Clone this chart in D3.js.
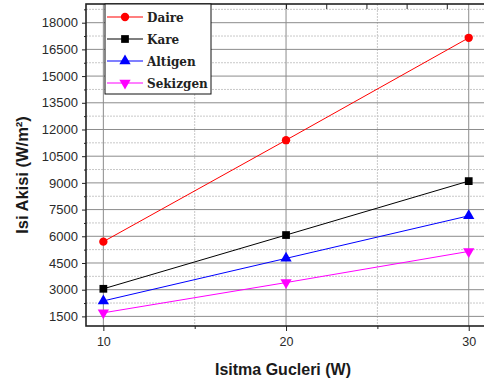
<!DOCTYPE html>
<html lang="en">
<head>
<meta charset="UTF-8">
<script src="https://d3js.org/d3.v7.min.js"></script>
<style>
  body { margin: 0; background: #fff; }
</style>
</head>
<body>
<div id="chart"></div>
<script>

// data
const powers = [10, 20, 30];
const daire = [5700, 11400, 17150];
const kare = [3050, 6070, 9100];
const altigen = [2370, 4760, 7150];
const sekizgen = [1700, 3400, 5150];
const seriesNames = ["Daire", "Kare", "Altigen", "Sekizgen"];
const yTicks = [1500, 3000, 4500, 6000, 7500, 9000, 10500, 12000, 13500, 15000, 16500, 18000];
const xTicks = [10, 20, 30];

const W = 484, H = 383;
const margin = {top: 4, right: -3, bottom: 57, left: 86};
const width = W - margin.left - margin.right,
      height = H - margin.top - margin.bottom;

const svg = d3.select("#chart").append("svg")
    .attr("width", W)
    .attr("height", H);

const g = svg.append("g")
    .attr("transform", `translate(${margin.left},${margin.top})`);

const x = d3.scaleLinear().domain([9.05, 31]).range([0, width]);
const y = d3.scaleLinear().domain([960, 19050]).range([height, 0]);

// minor grid (dotted)
const yMinor = yTicks.map(d => d + 750).filter(d => d < 19000);
g.append("g").selectAll("line")
  .data(yMinor)
  .join("line")
    .attr("x1", 0).attr("x2", width)
    .attr("y1", d => y(d)).attr("y2", d => y(d))
    .attr("stroke", "#c8c8c8")
    .attr("stroke-dasharray", "2,1");
g.append("g").selectAll("line")
  .data([15, 25])
  .join("line")
    .attr("x1", d => x(d)).attr("x2", d => x(d))
    .attr("y1", 0).attr("y2", height)
    .attr("stroke", "#c8c8c8")
    .attr("stroke-dasharray", "2,1");

// major grid
g.append("g").selectAll("line")
  .data(yTicks)
  .join("line")
    .attr("x1", 0).attr("x2", width)
    .attr("y1", d => y(d)).attr("y2", d => y(d))
    .attr("stroke", "#8c8c8c");
g.append("g").selectAll("line")
  .data(xTicks)
  .join("line")
    .attr("x1", d => x(d)).attr("x2", d => x(d))
    .attr("y1", 0).attr("y2", height)
    .attr("stroke", "#8c8c8c");

// axes
const yAxis = g.append("g")
  .call(d3.axisLeft(y).tickValues(yTicks).tickSize(4).tickPadding(4).tickFormat(d3.format("d")));
const yAxisMinor = g.append("g")
  .call(d3.axisLeft(y).tickValues(yMinor).tickSize(2).tickFormat(""));
const xAxis = g.append("g")
  .attr("transform", `translate(0,${height})`)
  .call(d3.axisBottom(x).tickValues(xTicks).tickSize(5).tickPadding(6).tickFormat(d3.format("d")));
const xAxisMinor = g.append("g")
  .attr("transform", `translate(0,${height})`)
  .call(d3.axisBottom(x).tickValues([15, 25]).tickSize(3).tickFormat(""));
const xTop = g.append("g")
  .call(d3.axisBottom(x).tickValues([11.2, 15.6, 20, 22.2, 24.4, 26.6, 28.8]).tickSize(5).tickFormat(""));

[yAxis, yAxisMinor, xAxis, xAxisMinor, xTop].forEach(a => {
  a.select(".domain").remove();
  a.selectAll(".tick line").attr("stroke", "#222");
  a.selectAll(".tick text")
    .attr("fill", "#2a2a2a")
    .style("font-family", "'Liberation Sans', Arial, sans-serif")
    .style("font-size", "12.5px");
});
yAxis.selectAll(".tick text").style("font-size", "13px");

// frame
g.append("rect")
  .attr("x", 0).attr("y", 0)
  .attr("width", width).attr("height", height)
  .attr("fill", "none")
  .attr("stroke", "#222")
  .attr("stroke-width", 1.6);

// series
const series = [
  {name: seriesNames[0], values: daire, color: "#ff0000", symbol: d3.symbolCircle, size: 55, rot: 0},
  {name: seriesNames[1], values: kare, color: "#000000", symbol: d3.symbolSquare, size: 60, rot: 0},
  {name: seriesNames[2], values: altigen, color: "#0000ff", symbol: d3.symbolTriangle, size: 55, rot: 0},
  {name: seriesNames[3], values: sekizgen, color: "#ff00ff", symbol: d3.symbolTriangle, size: 55, rot: 180}
];

const line = d3.line()
  .x((d, i) => x(powers[i]))
  .y(d => y(d));

series.forEach(s => {
  g.append("path")
    .datum(s.values)
    .attr("d", line)
    .attr("fill", "none")
    .attr("stroke", s.color)
    .attr("stroke-width", 1);
  g.append("g").selectAll("path")
    .data(s.values)
    .join("path")
      .attr("d", d3.symbol().type(s.symbol).size(s.size))
      .attr("transform", (d, i) => `translate(${x(powers[i])},${y(d)}) rotate(${s.rot})`)
      .attr("fill", s.color);
});

// legend
const legend = svg.append("g").attr("transform", "translate(105,4)");
legend.append("rect")
  .attr("width", 106).attr("height", 90)
  .attr("fill", "#fff")
  .attr("stroke", "#111")
  .attr("stroke-width", 1);
series.forEach((s, i) => {
  const row = legend.append("g").attr("transform", `translate(0,${13 + i * 22})`);
  row.append("line")
    .attr("x1", 2).attr("x2", 38)
    .attr("stroke", s.color).attr("stroke-width", 1.2);
  row.append("path")
    .attr("d", d3.symbol().type(s.symbol).size(s.size))
    .attr("transform", `translate(20,0) rotate(${s.rot})`)
    .attr("fill", s.color);
  row.append("text")
    .attr("x", 42).attr("y", 5)
    .text(s.name)
    .attr("fill", "#222")
    .style("font-family", "'DejaVu Serif', serif")
    .style("font-weight", "bold")
    .style("font-size", "12px");
});

// axis titles
svg.append("text")
  .attr("transform", "translate(28,175) rotate(-90)")
  .attr("text-anchor", "middle")
  .attr("fill", "#1a1a1a")
  .style("font-family", "'Liberation Sans', Arial, sans-serif")
  .style("font-weight", "bold")
  .style("font-size", "16.5px")
  .text("Isi Akisi (W/m²)");

svg.append("text")
  .attr("x", 283).attr("y", 375)
  .attr("text-anchor", "middle")
  .attr("fill", "#1a1a1a")
  .style("font-family", "'Liberation Sans', Arial, sans-serif")
  .style("font-weight", "bold")
  .style("font-size", "16px")
  .text("Isitma Gucleri (W)");

</script>
</body>
</html>
